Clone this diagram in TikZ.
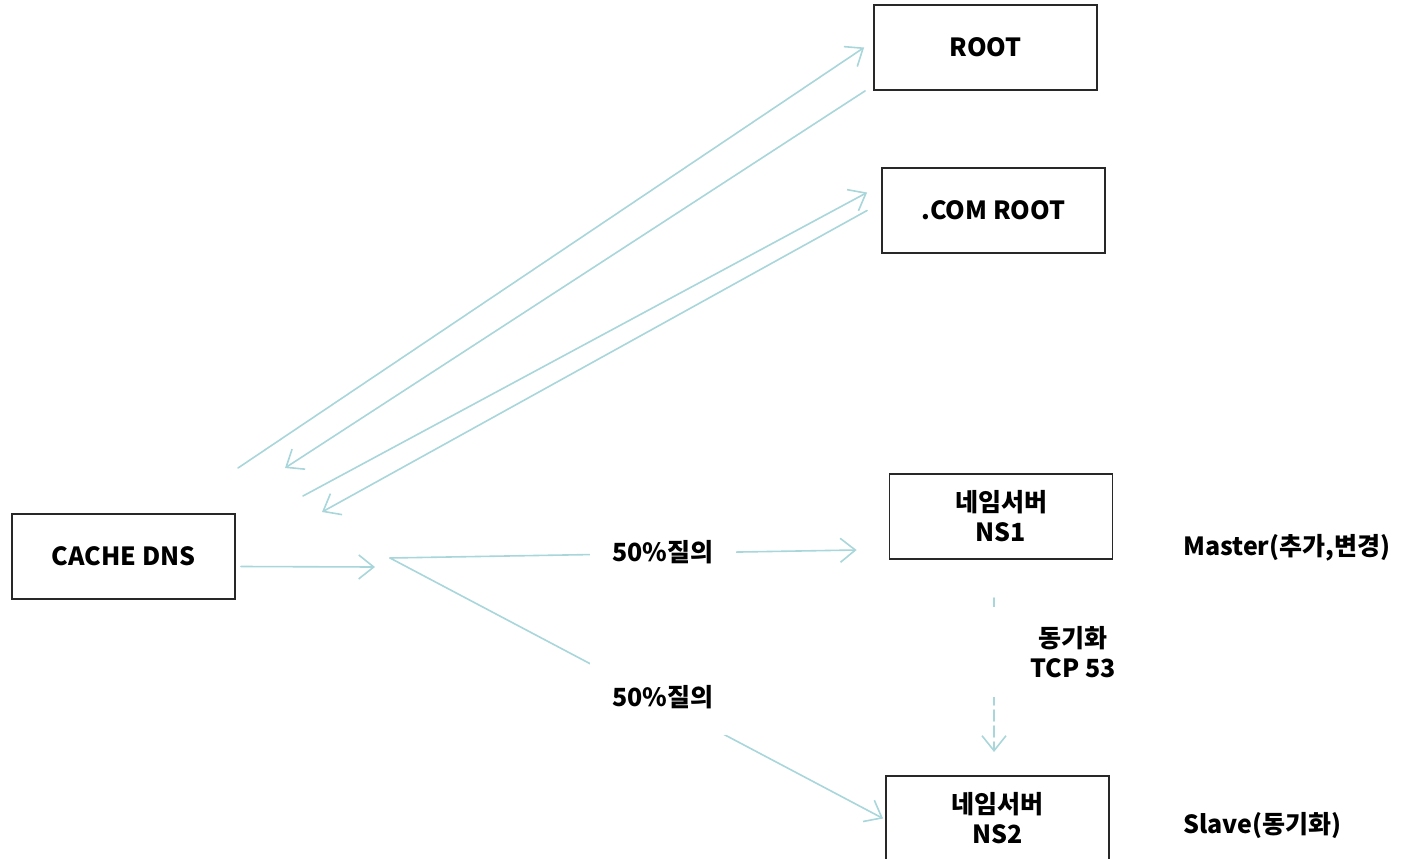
\documentclass[tikz,border=0pt]{standalone}
\usepackage{fontspec}
\setmainfont{Noto Sans CJK KR}
\usetikzlibrary{arrows.meta}
\definecolor{flowc}{RGB}{168,214,218}
\definecolor{boxc}{RGB}{40,40,40}
\begin{document}
\begin{tikzpicture}[x=1pt,y=-1pt,
  font=\fontsize{25}{30}\selectfont\bfseries,
  server/.style={draw=boxc,line width=1.8pt,minimum width=223pt,minimum height=85pt,
    align=center,inner sep=0pt},
  flow/.style={draw=flowc,line width=1.6pt,line cap=round},
  tip/.style={-{Straight Barb[length=15pt,width=24pt,line width=1.6pt]}},
  tag/.style={fill=white,inner xsep=22pt,minimum height=76pt,inner ysep=0pt},
  note/.style={anchor=west,inner sep=0pt}]
\useasboundingbox (0,0) rectangle (1416,859);

% servers
\node[server] (root)  at (985.5,47.5)  {ROOT};
\node[server] (com)   at (993.5,210.5) {.COM ROOT};
\node[server] (cache) at (123.5,556.5) {CACHE DNS};
\node[server] (ns1)   at (1001,516.5)  {네임서버\\NS1};
\node[server] (ns2)   at (997.5,818.5) {네임서버\\NS2};

% free ends of the lookup arrows next to the cache server
\coordinate (q1) at (238,468);
\coordinate (r1) at (285,468);
\coordinate (q2) at (303,496);
\coordinate (r2) at (322,512);
\coordinate (fork) at (390,558);
\coordinate (forkin) at (375,567);
\coordinate (syncA) at (994,598);
\coordinate (syncB) at (994,752);

% iterative lookups towards ROOT and .COM ROOT
\draw[flow,tip] (q1) -- ([shift={(-9,0)}]root.west);
\draw[flow,tip] ([shift={(-8,0)}]root.south west) -- (r1);
\draw[flow,tip] (q2) -- ([shift={(-14,-18)}]com.west);
\draw[flow,tip] ([shift={(-14,0)}]com.west) -- (r2);

% query split between the two name servers
\draw[flow,tip] ([shift={(5,10)}]cache.east) -- (forkin);
\draw[flow,tip] (fork) -- ([shift={(-32,33.5)}]ns1.west);
\draw[flow,tip] (fork) -- ([shift={(-2,0)}]ns2.west);
\node[tag] (half1) at (663,552) {50\%질의};
\node[tag] (half2) at (663,697) {50\%질의};

% zone transfer from master to slave
\draw[flow,tip,dash pattern=on 11pt off 5pt] (syncA) -- (syncB);
\node[fill=white,align=center,inner xsep=40pt,inner ysep=0pt,minimum height=90pt]
  (sync) at (1073,652) {동기화\\TCP 53};

\node[note] (master) at (1183,548) {Master(추가,변경)};
\node[note] (slave)  at (1183,826) {Slave(동기화)};
\end{tikzpicture}
\end{document}
